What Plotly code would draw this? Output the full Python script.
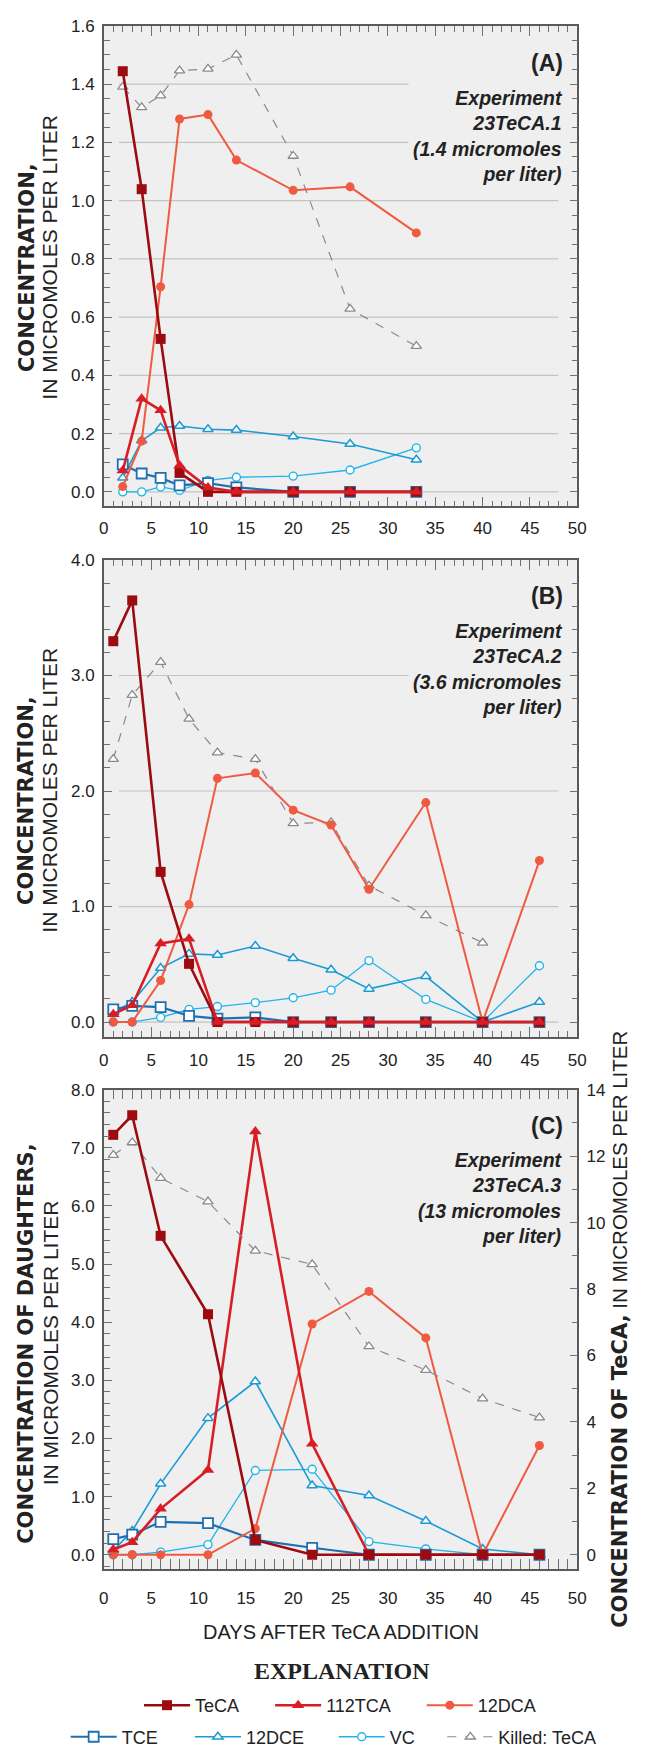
import plotly.graph_objects as go

W, H = 646, 1756

# ---- Experiment 23TeCA.1 (panel A) ----
days_a = [2, 4, 6, 8, 11, 14, 20, 26, 33]
a_teca = [1.444, 1.039, 0.525, 0.065, 0.0, 0.0, 0.0, 0.0, 0.0]
a_112tca = [0.073, 0.32, 0.28, 0.09, 0.015, 0.0, 0.0, 0.0, 0.0]
a_12dca = [0.018, 0.174, 0.704, 1.28, 1.295, 1.139, 1.035, 1.047, 0.889]
a_tce = [0.094, 0.063, 0.048, 0.022, 0.03, 0.015, 0.0, 0.0, 0.0]
a_12dce = [0.048, 0.176, 0.22, 0.226, 0.215, 0.212, 0.19, 0.164, 0.11]
a_vc = [0.0, 0.0, 0.017, 0.005, 0.039, 0.05, 0.054, 0.075, 0.151]
a_killed = [1.39, 1.32, 1.36, 1.446, 1.452, 1.5, 1.153, 0.628, 0.5]

# ---- Experiment 23TeCA.2 (panel B) ----
days_b = [1, 3, 6, 9, 12, 16, 20, 24, 28, 34, 40, 46]
b_teca = [3.297, 3.65, 1.3, 0.504, 0.0, 0.0, 0.0, 0.0, 0.0, 0.0, 0.0, 0.0]
b_112tca = [0.068, 0.145, 0.68, 0.72, 0.0, 0.0, 0.0, 0.0, 0.0, 0.0, 0.0, 0.0]
b_12dca = [0.0, 0.0, 0.36, 1.017, 2.11, 2.156, 1.834, 1.706, 1.15, 1.9, 0.0, 1.398]
b_tce = [0.11, 0.14, 0.13, 0.054, 0.03, 0.04, 0.0, 0.0, 0.0, 0.0, 0.0, 0.0]
b_12dce = [0.082, 0.173, 0.467, 0.59, 0.581, 0.658, 0.552, 0.453, 0.287, 0.396, 0.0, 0.173]
b_vc = [0.0, 0.0, 0.04, 0.11, 0.134, 0.168, 0.21, 0.276, 0.532, 0.196, 0.0, 0.487]
days_b_killed = [1, 3, 6, 9, 12, 16, 20, 24, 28, 34, 40]
b_killed = [2.276, 2.83, 3.116, 2.624, 2.333, 2.276, 1.72, 1.729, 1.18, 0.923, 0.686]

# ---- Experiment 23TeCA.3 (panel C); TeCA series on the right-hand axis ----
days_c = [1, 3, 6, 11, 16, 22, 28, 34, 40, 46]
c_teca = [12.64, 13.23, 9.6, 7.24, 0.446, 0.0, 0.0, 0.0, 0.0, 0.0]
c_killed = [12.03, 12.41, 11.34, 10.63, 9.15, 8.74, 6.27, 5.56, 4.70, 4.13]
c_112tca = [0.09, 0.216, 0.79, 1.46, 7.28, 1.91, 0.0, 0.0, 0.0, 0.0]
c_12dca = [0.0, 0.0, 0.0, 0.0, 0.45, 3.97, 4.53, 3.73, 0.0, 1.88]
c_tce = [0.27, 0.345, 0.566, 0.543, 0.255, 0.12, 0.0, 0.0, 0.0, 0.0]
c_12dce = [0.07, 0.41, 1.22, 2.35, 2.98, 1.19, 1.02, 0.58, 0.1, 0.0]
c_vc = [0.0, 0.0, 0.045, 0.175, 1.45, 1.47, 0.226, 0.1, 0.0, 0.0]

grid_a = [0.0, 0.2, 0.4, 0.6, 0.8, 1.0, 1.2, 1.4]
grid_b = [0.0, 1.0, 2.0, 3.0]

panel_labels = ["(A)", "(B)", "(C)"]
panel_notes = [
    ["Experiment", "23TeCA.1", "(1.4 micromoles", "per liter)"],
    ["Experiment", "23TeCA.2", "(3.6 micromoles", "per liter)"],
    ["Experiment", "23TeCA.3", "(13 micromoles", "per liter)"],
]
left_titles = ["CONCENTRATION,", "CONCENTRATION,", "CONCENTRATION OF DAUGHTERS,"]
unit_title = "IN MICROMOLES PER LITER"
right_title = "CONCENTRATION OF TeCA,"

SANS = "Liberation Sans, Arial, Helvetica, sans-serif"
WIDE = "DejaVu Sans, Verdana, sans-serif"
SERIF = "Liberation Serif, Times New Roman, serif"
BG = "#efefef"
AXIS = "#5a5a5a"
TICK = "#707070"
INK = "#222"

def px(v):
    return v / W

def py(v):
    return 1 - v / H

styles = {
    "TeCA": dict(color="#9b0b10", width=2.6, symbol="square", size=10, fill="#9b0b10", mline=0),
    "112TCA": dict(color="#d81e25", width=2.6, symbol="triangle-up", size=11, fill="#d81e25", mline=0),
    "12DCA": dict(color="#f05a40", width=2.0, symbol="circle", size=9, fill="#f05a40", mline=0),
    "TCE": dict(color="#1f6fb2", width=2.2, symbol="square", size=10, fill="white", mline=1.8),
    "12DCE": dict(color="#1a9ad6", width=1.6, symbol="triangle-up", size=9, fill="white", mline=1.5),
    "VC": dict(color="#21b4ea", width=1.3, symbol="circle", size=8, fill="white", mline=1.4),
    "Killed: TeCA": dict(color="#8a8a8a", width=1.2, symbol="triangle-up", size=9, fill="white", mline=1.3, dash="dash"),
}

# Each key gets its own legend box: (legend id, left pixel, row pixel)
legend_slot = {
    "TeCA": ("legend", 137, 1719), "112TCA": ("legend2", 271, 1719), "12DCA": ("legend3", 426, 1719),
    "TCE": ("legend4", 62, 1751), "12DCE": ("legend5", 189, 1751), "VC": ("legend6", 336, 1751),
    "Killed: TeCA": ("legend7", 447, 1751),
}

fig = go.Figure()

def add(name, x, y, xa, ya, show):
    s = styles[name]
    fig.add_trace(go.Scatter(
        x=x, y=y, name=name, mode="lines+markers", xaxis=xa, yaxis=ya,
        line=dict(color=s["color"], width=s["width"], dash=s.get("dash", "solid")),
        marker=dict(symbol=s["symbol"], size=s["size"], color=s["fill"],
                    line=dict(color=s["color"], width=s["mline"])),
        showlegend=show, legend=legend_slot[name][0], legendgroup=name,
        cliponaxis=False,
    ))

order = ["Killed: TeCA", "VC", "12DCE", "TCE", "12DCA", "TeCA", "112TCA"]
panel_a = {"TeCA": (days_a, a_teca), "112TCA": (days_a, a_112tca), "12DCA": (days_a, a_12dca),
           "TCE": (days_a, a_tce), "12DCE": (days_a, a_12dce), "VC": (days_a, a_vc),
           "Killed: TeCA": (days_a, a_killed)}
panel_b = {"TeCA": (days_b, b_teca), "112TCA": (days_b, b_112tca), "12DCA": (days_b, b_12dca),
           "TCE": (days_b, b_tce), "12DCE": (days_b, b_12dce), "VC": (days_b, b_vc),
           "Killed: TeCA": (days_b_killed, b_killed)}
panel_c = {"TeCA": (days_c, c_teca), "112TCA": (days_c, c_112tca), "12DCA": (days_c, c_12dca),
           "TCE": (days_c, c_tce), "12DCE": (days_c, c_12dce), "VC": (days_c, c_vc),
           "Killed: TeCA": (days_c, c_killed)}

for name in order:
    add(name, *panel_a[name], "x", "y", True)
for name in order:
    add(name, *panel_b[name], "x2", "y2", False)
for name in order:
    ya = "y4" if name in ("TeCA", "Killed: TeCA") else "y3"
    add(name, *panel_c[name], "x3", ya, False)

x_dom = [px(101), px(585)]
dom_a = [py(504), py(17)]
dom_b = [py(1041.7), py(558.3)]
dom_c = [py(1581), py(1095)]

def xaxis(anchor, standoff=5):
    return dict(domain=x_dom, anchor=anchor, range=[0, 50], tick0=0, dtick=5,
                ticks="inside", ticklen=10, tickwidth=1.2, tickcolor=TICK,
                minor=dict(ticks="inside", ticklen=6, dtick=1, tick0=0, tickwidth=1.1, tickcolor=TICK),
                mirror="allticks", showline=True, linecolor=AXIS, linewidth=1.6,
                showgrid=False, zeroline=False, ticklabelstandoff=standoff,
                tickfont=dict(family=SANS, size=17, color=INK))

def yaxis(anchor, dom, rng, dtick, minor, mirror="allticks", fmt=".1f"):
    return dict(domain=dom, anchor=anchor, range=rng, tick0=0, dtick=dtick, tickformat=fmt,
                ticks="inside", ticklen=8, tickwidth=1.2, tickcolor=TICK,
                minor=dict(ticks="inside", ticklen=6, dtick=minor, tick0=0, tickwidth=1.1, tickcolor=TICK),
                mirror=mirror, showline=True, linecolor=AXIS, linewidth=1.6,
                showgrid=False, zeroline=False, ticklabelstandoff=4,
                tickfont=dict(family=SANS, size=17, color=INK))

legends = {}
for name, (lid, left, row) in legend_slot.items():
    legends[lid] = dict(orientation="h", x=px(left), xanchor="left", y=py(row), yanchor="middle",
                        font=dict(family=SANS, size=18, color=INK), itemwidth=46,
                        bgcolor="rgba(0,0,0,0)")

fig.update_layout(
    width=W, height=H, margin=dict(l=0, r=0, t=0, b=0),
    paper_bgcolor="white", plot_bgcolor=BG,
    font=dict(family=SANS, color=INK),
    xaxis=xaxis("y"), xaxis2=xaxis("y2", 7), xaxis3=xaxis("y3", 13),
    yaxis=yaxis("x", dom_a, [-0.05, 1.6], 0.2, 0.05),
    yaxis2=yaxis("x2", dom_b, [-0.13, 4.0], 1, 0.2),
    yaxis3=yaxis("x3", dom_c, [-0.25, 8.0], 1, 0.2, mirror=True),
    yaxis4=dict(yaxis("x3", dom_c, [-0.4375, 14], 2, 1, mirror=False, fmt="d"),
                overlaying="y3", side="right"),
    **legends,
)

# Inset horizontal gridlines
for ya, vals in (("y", grid_a), ("y2", grid_b)):
    for v in vals:
        fig.add_shape(type="line", xref=ya.replace("y", "x") + " domain", yref=ya,
                      x0=0.032, x1=0.96, y0=v, y1=v, layer="below",
                      line=dict(color="#c4c4c4", width=1.2))

# Panel letters and experiment notes
label_y = [55, 595, 1131.7]
note_top = [78, 618, 1154]
for lab, note, ly, nt in zip(panel_labels, panel_notes, label_y, note_top):
    fig.add_annotation(text=f"<b>{lab}</b>", xref="paper", yref="paper", x=px(572), y=py(ly),
                       xanchor="right", yanchor="middle", showarrow=False,
                       font=dict(family=SANS, size=23, color=INK))
    fig.add_annotation(text="<br>".join(f"<b><i>{t}</i></b>" for t in note),
                       xref="paper", yref="paper", x=px(575), y=py(nt - 4),
                       xanchor="right", yanchor="top", align="right", showarrow=False,
                       bgcolor=BG, borderpad=4,
                       font=dict(family=SANS, size=19.5, color=INK))

# Left axis titles: bold first line, plain unit line
title_centre = [(262, 252), (802, 792), (1352, 1352)]
for line1, (y1, y2) in zip(left_titles, title_centre):
    fig.add_annotation(text=f"<b>{line1}</b>", xref="paper", yref="paper", x=px(22), y=py(y1),
                       xanchor="center", yanchor="middle", textangle=-90, showarrow=False,
                       font=dict(family=WIDE, size=21, color=INK))
    fig.add_annotation(text=unit_title, xref="paper", yref="paper", x=px(46), y=py(y2),
                       xanchor="center", yanchor="middle", textangle=-90, showarrow=False,
                       font=dict(family=SANS, size=21, color=INK))

# Right axis title (panel C)
fig.add_annotation(
    text=f"<span style='font-family:DejaVu Sans;font-size:21px'><b>{right_title}</b></span> {unit_title}",
    xref="paper", yref="paper", x=px(629), y=py(1338), xanchor="center", yanchor="middle",
    textangle=-90, showarrow=False, font=dict(family=SANS, size=20.5, color=INK))

# Shared x-axis title and explanation heading
fig.add_annotation(text="DAYS AFTER TeCA ADDITION", xref="paper", yref="paper",
                   x=px(343), y=py(1645), xanchor="center", yanchor="middle", showarrow=False,
                   font=dict(family=SANS, size=20, color=INK))
fig.add_annotation(text="<b>EXPLANATION</b>", xref="paper", yref="paper",
                   x=px(344), y=py(1684), xanchor="center", yanchor="middle", showarrow=False,
                   font=dict(family=SERIF, size=24, color=INK))

fig.write_html("out.html")
